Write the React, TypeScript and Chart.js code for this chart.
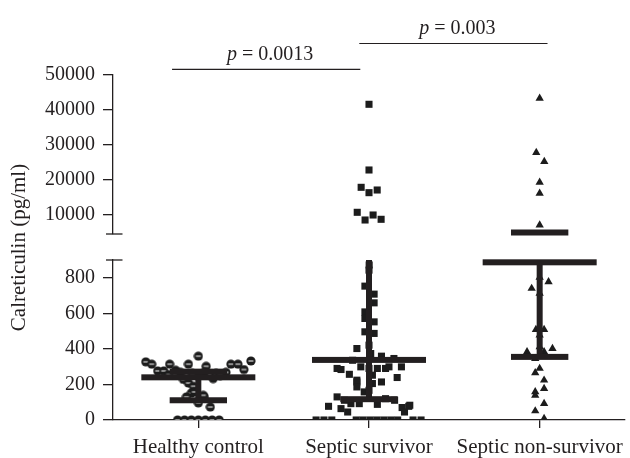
import React, { useEffect, useRef } from "react";
import { Chart, registerables } from "chart.js";

Chart.register(...registerables);

// ---------- data ----------
const categories = ["Healthy control", "Septic survivor", "Septic non-survivor"];
const yTitle = "Calreticulin (pg/ml)";

const lowTicks = [0, 200, 400, 600, 800];
const highTicks = [10000, 20000, 30000, 40000, 50000];
const lowRange = [0, 900];
const highRange = [4571, 50000];

const healthyValues = [
  327, 314, 276, 276, 314, 280, 314, 359, 302, 233,
  314, 314, 284, 332, 228, 208, 190, 152, 130, 130,
  96, 73, 158, 139, 0, 0, 0, 0, 0, 0, 0,
  268, 262, 268, 262, 268, 255, 250,
];
const healthyOffsets = [
  -0.308, -0.273, -0.238, -0.203, -0.168, -0.133, -0.058, 0, 0.046, 0.087,
  0.191, 0.232, 0.267, 0.308, -0.087, -0.058, -0.029, -0.041, -0.07, 0.035,
  0, 0.07, -0.023, 0.029, -0.122, -0.081, -0.041, 0, 0.041, 0.081, 0.122,
  -0.104, -0.035, 0.035, 0.104, 0.162, -0.174, 0.128,
];

const survivorLowValues = [
  872, 843, 753, 708, 659, 608, 571, 552, 496, 487,
  402, 421, 374, 359, 346, 336, 290, 284, 257, 299,
  290, 290, 290, 299, 299, 214, 186, 252, 205, 214,
  239, 158, 167, 130, 111, 92, 92, 88, 120, 111,
  77, 64, 45, 70, 77, 45,
  0, 0, 0, 0, 0, 0, 0, 0, 0, 0, 0, 0,
  224, 83,
];
const survivorLowOffsets = [
  0.001, 0, -0.024, 0.03, 0.03, -0.024, -0.024, 0.03, -0.024, 0.03,
  -0.071, 0, 0.01, 0.073, 0.146, -0.096, -0.187, -0.164, -0.115, -0.048,
  0, 0.049, 0.097, 0.117, 0.19, -0.071, -0.071, 0.02, 0.02, 0.073,
  0.165, -0.028, 0, -0.187, -0.144, -0.106, -0.057, 0.049, 0.097, 0.15,
  -0.237, -0.164, -0.125, 0.194, 0.233, 0.208,
  -0.31, -0.264, -0.218, -0.075, -0.035, 0.006, 0.046, 0.087, 0.128, 0.168, 0.258, 0.305,
  -0.071, 0.239,
];
const survivorHighValues = [41630, 22860, 17910, 16380, 17140, 10770, 8570, 10000, 8770];
const survivorHighOffsets = [0, 0, -0.046, 0, 0.048, -0.069, -0.023, 0.024, 0.071];

const nonSurvivorLowValues = [
  777, 740, 802, 712, 509, 509, 477, 402, 411, 383, 383,
  346, 290, 265, 224, 177, 158, 139, 92, 51, 8,
];
const nonSurvivorLowOffsets = [
  0.052, -0.047, 0, 0, -0.022, 0.026, 0, 0.075, 0, -0.074, 0.026,
  -0.026, 0, -0.026, 0.026, 0.026, -0.026, -0.026, 0.026, -0.026, 0.026,
];
const nonSurvivorHighValues = [43330, 27810, 25240, 19340, 16190, 7140];
const nonSurvivorHighOffsets = [0, -0.02, 0.027, 0, 0, 0];

const medians = [240, 338, 887];
const q1s = [111, 117, 355];
const q3s = [272, 2000, 5000];

const pLabels = ["0.0013", "0.003"];
const pFrom = [-0.154, 0.943];
const pTo = [0.949, 2.046];
const pLevel = [51600, 59000];

// ---------- style ----------
const INK = "#231f20";
const DOT = "#1c1c1c";
const FONT = '"Liberation Serif", "Times New Roman", serif';
const BAR = 6;
const MEDIAN_HALF = 0.334;
const QUART_HALF = 0.168;

function makeCircle(): HTMLCanvasElement {
  const c = document.createElement("canvas");
  c.width = 10;
  c.height = 10;
  const g = c.getContext("2d")!;
  g.fillStyle = DOT;
  g.beginPath();
  g.arc(5, 5, 4.6, 0, Math.PI * 2);
  g.fill();
  g.fillStyle = "#ffffff";
  g.fillRect(2.5, 4.5, 5, 1);
  return c;
}

const pts = (center: number, offs: number[], vals: number[]) =>
  vals.map((v, i) => ({ x: center + offs[i], y: v }));

const overlay = {
  id: "overlay",
  afterDatasetsDraw(chart: any) {
    const { ctx } = chart;
    const x = chart.scales.x;
    const lo = chart.scales.yLow;
    const hi = chart.scales.yHigh;
    const unit = x.getPixelForValue(1) - x.getPixelForValue(0);
    const pix = (v: number) =>
      v <= lowRange[1] ? lo.getPixelForValue(v) : v >= highRange[0] ? hi.getPixelForValue(v) : null;
    ctx.save();
    ctx.fillStyle = INK;
    categories.forEach((_, i) => {
      const xc = x.getPixelForValue(i);
      const hb = (y: number, half: number) =>
        ctx.fillRect(xc - half * unit, y - BAR / 2, 2 * half * unit, BAR);
      const a = q1s[i];
      const b = q3s[i];
      if (a <= lowRange[1]) {
        const y1 = lo.getPixelForValue(a);
        const y2 = lo.getPixelForValue(Math.min(b, lowRange[1]));
        ctx.fillRect(xc - BAR / 2, Math.min(y1, y2), BAR, Math.abs(y1 - y2));
      }
      if (b >= highRange[0]) {
        const y1 = hi.getPixelForValue(Math.max(a, highRange[0]));
        const y2 = hi.getPixelForValue(b);
        ctx.fillRect(xc - BAR / 2, Math.min(y1, y2), BAR, Math.abs(y1 - y2));
      }
      [a, b].forEach((v) => {
        const y = pix(v);
        if (y !== null) hb(y, QUART_HALF);
      });
      const ym = pix(medians[i]);
      if (ym !== null) hb(ym, MEDIAN_HALF);
    });
    ctx.restore();
  },
  afterDraw(chart: any) {
    const { ctx, chartArea } = chart;
    const x = chart.scales.x;
    const lo = chart.scales.yLow;
    const hi = chart.scales.yHigh;
    ctx.save();
    // break caps
    ctx.strokeStyle = INK;
    ctx.lineWidth = 1.3;
    const ax = chartArea.left;
    [hi.getPixelForValue(highRange[0]), lo.getPixelForValue(lowRange[1])].forEach((y) => {
      ctx.beginPath();
      ctx.moveTo(ax - 7, y);
      ctx.lineTo(ax + 9.5, y);
      ctx.stroke();
    });
    // p-value brackets
    pLabels.forEach((lab, i) => {
      const x1 = x.getPixelForValue(pFrom[i]);
      const x2 = x.getPixelForValue(pTo[i]);
      const y = hi.getPixelForValue(pLevel[i]);
      ctx.lineWidth = 1.2;
      ctx.beginPath();
      ctx.moveTo(x1, y);
      ctx.lineTo(x2, y);
      ctx.stroke();
      ctx.fillStyle = INK;
      ctx.textBaseline = "alphabetic";
      ctx.textAlign = "left";
      ctx.font = `italic 20px ${FONT}`;
      const wp = ctx.measureText("p").width;
      ctx.font = `20px ${FONT}`;
      const rest = ` = ${lab}`;
      const wr = ctx.measureText(rest).width;
      const cx = (x1 + x2) / 2 + 4;
      const sx = cx - (wp + wr) / 2;
      const by = y - 9.5;
      ctx.font = `italic 20px ${FONT}`;
      ctx.fillText("p", sx, by);
      ctx.font = `20px ${FONT}`;
      ctx.fillText(rest, sx + wp, by);
    });
    // y title
    ctx.translate(19, (hi.getPixelForValue(highRange[1]) + lo.getPixelForValue(lowRange[0])) / 2);
    ctx.rotate(-Math.PI / 2);
    ctx.textAlign = "center";
    ctx.textBaseline = "middle";
    ctx.font = `21px ${FONT}`;
    ctx.fillStyle = INK;
    ctx.fillText(yTitle, 0, 0);
    ctx.restore();
  },
};

export default function App() {
  const ref = useRef<HTMLCanvasElement>(null);
  useEffect(() => {
    const circle = makeCircle();
    const common = { showLine: false, pointBorderWidth: 0, pointHoverRadius: 0 };
    const yAxisCommon = (ticksArr: number[]) => ({
      type: "linear" as const,
      position: "left" as const,
      stack: "yaxis",
      afterBuildTicks: (s: any) => {
        s.ticks = ticksArr.map((v) => ({ value: v }));
      },
      afterFit: (s: any) => {
        s.width = 113;
        s.paddingTop = 0;
        s.paddingBottom = 0;
      },
      ticks: {
        color: INK,
        font: { family: FONT, size: 20 },
        padding: 8,
        autoSkip: false,
        callback: (v: any) => String(v),
      },
      grid: { drawOnChartArea: false, drawTicks: true, tickLength: 10, color: INK, lineWidth: 1.3 },
      border: { display: true, color: INK, width: 1.3 },
    });
    const chart = new Chart(ref.current!, {
      type: "scatter",
      data: {
        datasets: [
          {
            ...common,
            data: pts(0, healthyOffsets, healthyValues),
            yAxisID: "yLow",
            pointStyle: circle,
            pointRadius: 5,
            backgroundColor: DOT,
          },
          {
            ...common,
            data: pts(1, survivorLowOffsets, survivorLowValues),
            yAxisID: "yLow",
            pointStyle: "rect",
            pointRadius: 5,
            backgroundColor: DOT,
            borderColor: DOT,
          },
          {
            ...common,
            data: pts(1, survivorHighOffsets, survivorHighValues),
            yAxisID: "yHigh",
            pointStyle: "rect",
            pointRadius: 5,
            backgroundColor: DOT,
            borderColor: DOT,
          },
          {
            ...common,
            data: pts(2, nonSurvivorLowOffsets, nonSurvivorLowValues),
            yAxisID: "yLow",
            pointStyle: "triangle",
            pointRadius: 4.8,
            backgroundColor: DOT,
            borderColor: DOT,
          },
          {
            ...common,
            data: pts(2, nonSurvivorHighOffsets, nonSurvivorHighValues),
            yAxisID: "yHigh",
            pointStyle: "triangle",
            pointRadius: 4.8,
            backgroundColor: DOT,
            borderColor: DOT,
          },
        ],
      },
      options: {
        responsive: false,
        animation: false,
        events: [],
        layout: { padding: { top: 75, left: 0, right: 0, bottom: 0 } },
        plugins: { legend: { display: false }, tooltip: { enabled: false }, title: { display: false } },
        scales: {
          x: {
            type: "linear",
            position: "bottom",
            min: -0.5,
            max: 2.5,
            afterBuildTicks: (s: any) => {
              s.ticks = categories.map((_, i) => ({ value: i }));
            },
            afterFit: (s: any) => {
              s.height = 38;
              s.paddingLeft = 0;
              s.paddingRight = 0;
            },
            ticks: {
              color: INK,
              font: { family: FONT, size: 21 },
              padding: 7,
              maxRotation: 0,
              autoSkip: false,
              callback: (v: any) => categories[Math.round(Number(v))] ?? "",
            },
            grid: { drawOnChartArea: false, drawTicks: true, tickLength: 8, color: INK, lineWidth: 1.3 },
            border: { display: true, color: INK, width: 1.3 },
          },
          yLow: {
            ...yAxisCommon(lowTicks),
            min: lowRange[0],
            max: lowRange[1],
            stackWeight: 160,
            weight: 1,
          },
          yGap: {
            type: "linear",
            position: "left",
            stack: "yaxis",
            stackWeight: 26,
            weight: 2,
            min: 0,
            max: 1,
            afterFit: (s: any) => {
              s.width = 113;
              s.paddingTop = 0;
              s.paddingBottom = 0;
            },
            ticks: { display: false },
            grid: { display: false, drawTicks: false },
            border: { display: false },
          },
          yHigh: {
            ...yAxisCommon(highTicks),
            min: highRange[0],
            max: highRange[1],
            stackWeight: 159,
            weight: 3,
          },
        },
      } as any,
      plugins: [overlay],
    });
    return () => chart.destroy();
  }, []);

  return (
    <div style={{ position: "absolute", left: 0, top: 0, width: 630, height: 458, background: "#ffffff" }}>
      <canvas ref={ref} width={630} height={458} style={{ display: "block", width: 630, height: 458 }} />
    </div>
  );
}
